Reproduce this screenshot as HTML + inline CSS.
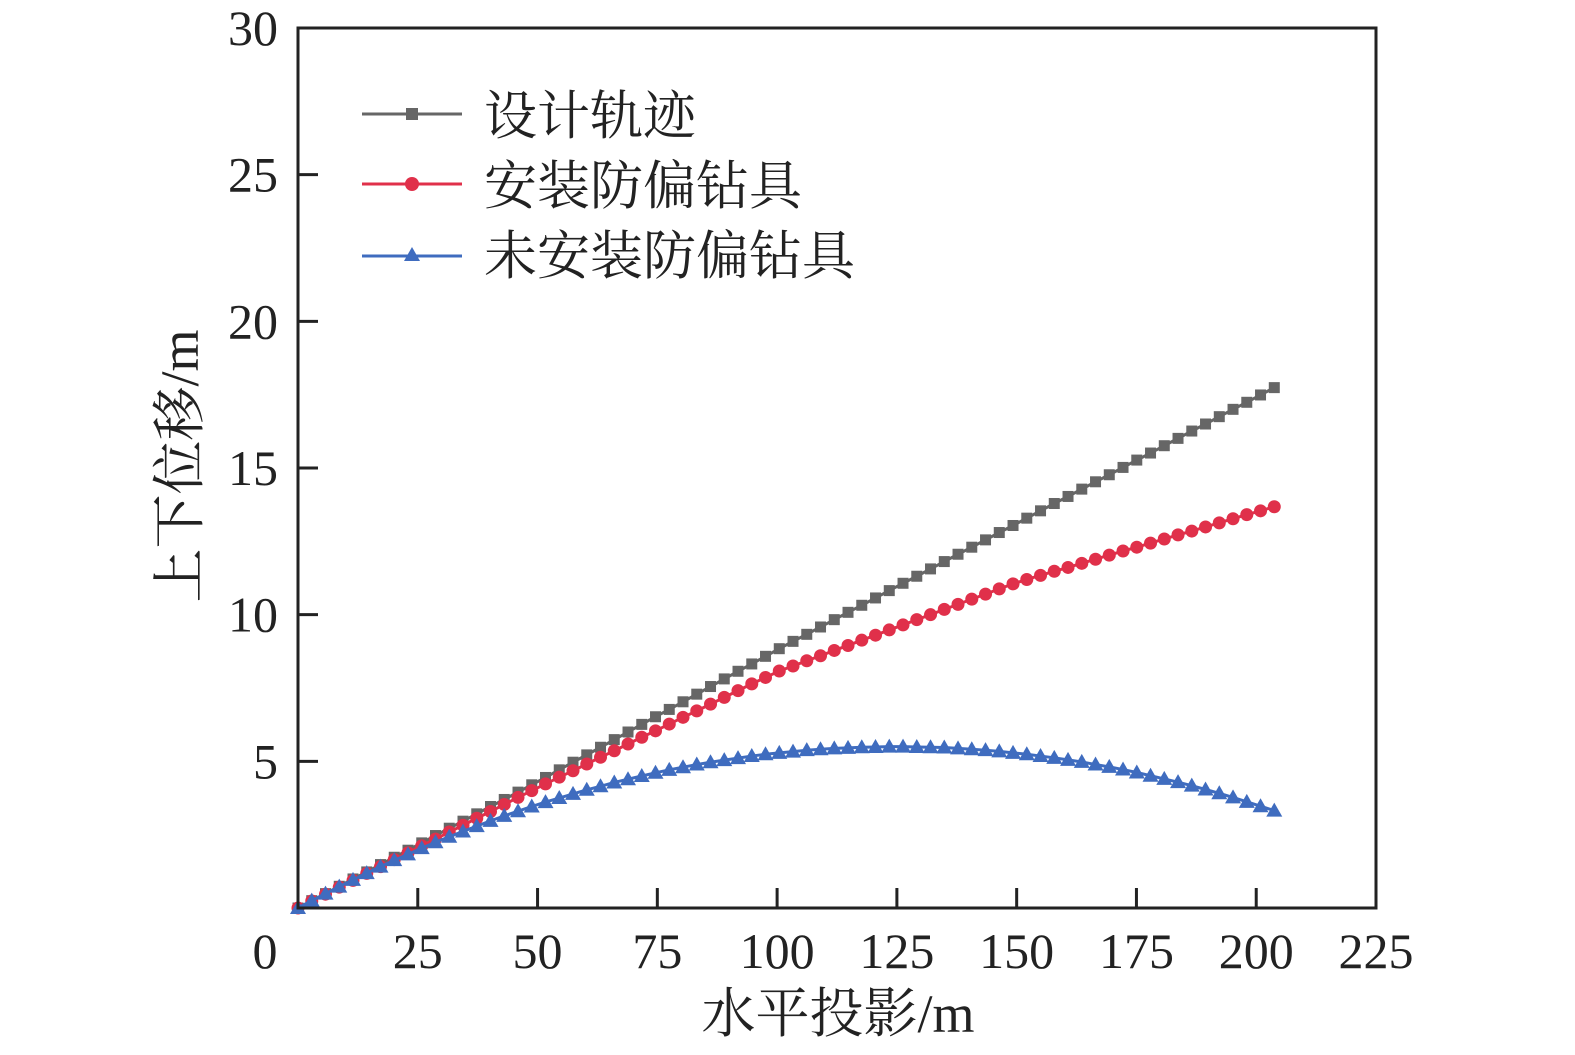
<!DOCTYPE html>
<html><head><meta charset="utf-8"><style>
body{margin:0;background:#fff;}
svg{display:block;}
text{font-family:"Liberation Serif","Noto Serif CJK SC",serif;fill:#222;}
</style></head><body>
<svg id="chart" width="1575" height="1055" xmlns="http://www.w3.org/2000/svg">
<g id="marks"></g>
<rect x="298" y="28" width="1078" height="880" fill="none" stroke="#222" stroke-width="3"/>
<g id="axes"></g>
<text x="838" y="1032" font-size="54" text-anchor="middle">水平投影/m</text>
<text transform="translate(198,466) rotate(-90)" font-size="54" text-anchor="middle">上下位移/m</text>
<g>
<g>
<line x1="362" y1="114" x2="462" y2="114" stroke="#666" stroke-width="3"/>
<rect x="406" y="108" width="12" height="12" fill="#666"/>
<text x="484" y="134" font-size="53">设计轨迹</text></g>
<g>
<line x1="362" y1="184" x2="462" y2="184" stroke="#e0304a" stroke-width="3"/>
<circle cx="412" cy="184" r="7" fill="#e0304a"/>
<text x="484" y="204" font-size="53">安装防偏钻具</text></g>
<g>
<line x1="362" y1="256" x2="462" y2="256" stroke="#3f6cbf" stroke-width="3"/>
<polygon points="412,247 420,261 404,261" fill="#3f6cbf"/>
<text x="484" y="274" font-size="53">未安装防偏钻具</text></g>
</g>
</svg>
<script>
const xVals=[0,2.87,5.74,8.61,11.48,14.35,17.22,20.09,22.96,25.83,28.7,31.57,34.44,37.31,40.18,43.05,45.92,48.79,51.66,54.53,57.4,60.27,63.14,66.01,68.88,71.75,74.62,77.49,80.36,83.23,86.1,88.97,91.84,94.71,97.58,100.45,103.32,106.19,109.06,111.93,114.8,117.67,120.54,123.41,126.28,129.15,132.02,134.89,137.76,140.63,143.5,146.37,149.24,152.11,154.98,157.85,160.72,163.59,166.46,169.33,172.2,175.07,177.94,180.81,183.68,186.55,189.42,192.29,195.16,198.03,200.9,203.77];
const designVals=[0,0.25,0.49,0.74,0.99,1.23,1.48,1.73,1.97,2.22,2.47,2.72,2.96,3.21,3.46,3.70,3.95,4.20,4.45,4.71,4.97,5.22,5.48,5.74,6.00,6.26,6.52,6.77,7.03,7.29,7.55,7.81,8.07,8.32,8.58,8.84,9.09,9.33,9.58,9.83,10.08,10.32,10.57,10.82,11.07,11.31,11.56,11.81,12.06,12.30,12.55,12.80,13.04,13.29,13.54,13.79,14.03,14.28,14.53,14.77,15.02,15.27,15.51,15.76,16.01,16.26,16.50,16.75,17.00,17.24,17.49,17.74];
const withToolVals=[0,0.24,0.47,0.71,0.94,1.18,1.41,1.65,1.88,2.12,2.35,2.59,2.82,3.06,3.29,3.53,3.77,4.00,4.23,4.46,4.68,4.91,5.14,5.36,5.59,5.82,6.04,6.27,6.50,6.72,6.95,7.18,7.41,7.64,7.86,8.08,8.25,8.43,8.60,8.78,8.95,9.13,9.30,9.48,9.65,9.83,10.00,10.18,10.35,10.53,10.70,10.88,11.05,11.20,11.34,11.48,11.61,11.75,11.89,12.03,12.17,12.30,12.44,12.58,12.72,12.85,12.99,13.13,13.27,13.41,13.54,13.68];
const withoutToolVals=[0,0.25,0.49,0.73,0.96,1.19,1.41,1.63,1.83,2.04,2.24,2.43,2.61,2.79,2.97,3.14,3.30,3.46,3.61,3.75,3.89,4.03,4.15,4.28,4.39,4.50,4.61,4.71,4.80,4.89,4.97,5.04,5.11,5.18,5.24,5.29,5.33,5.38,5.41,5.44,5.46,5.48,5.49,5.50,5.50,5.49,5.48,5.47,5.44,5.41,5.38,5.34,5.29,5.24,5.18,5.12,5.05,4.98,4.89,4.81,4.72,4.62,4.51,4.40,4.29,4.17,4.04,3.91,3.77,3.62,3.47,3.32];
const xTicks=[0,25,50,75,100,125,150,175,200,225];
const yTicks=[5,10,15,20,25,30];
const NS="http://www.w3.org/2000/svg";
function sx(v){return 298+v*(1078/225);}
function sy(v){return 908-v*(880/30);}
function mk(tag,attrs,parent){const e=document.createElementNS(NS,tag);for(const k in attrs)e.setAttribute(k,attrs[k]);parent.appendChild(e);return e;}
const axes=document.getElementById('axes');
xTicks.forEach(t=>{
  if(t>0&&t<225){const l=mk('line',{x1:sx(t),x2:sx(t),y1:908,y2:888,stroke:'#222','stroke-width':3},axes);
  
  }
  const tx=mk('text',{x:t===0?265:sx(t),y:968,'font-size':50,'text-anchor':'middle'},axes);
  tx.textContent=t;
  
  
});
yTicks.forEach(t=>{
  if(t<30){const l=mk('line',{x1:298,x2:318,y1:sy(t),y2:sy(t),stroke:'#222','stroke-width':3},axes);
  
  }
  const tx=mk('text',{x:278,y:sy(t)+17,'font-size':50,'text-anchor':'end'},axes);
  tx.textContent=t;
  
  
});
const marks=document.getElementById('marks');
function series(vals,color,shape,name){
  const g=mk('g',{},marks);
  
  
  const pts=vals.map((v,i)=>sx(xVals[i])+','+sy(v)).join(' ');
  mk('polyline',{points:pts,fill:'none',stroke:color,'stroke-width':3},g);
  vals.forEach((v,i)=>{
    const x=sx(xVals[i]),y=sy(v);let m;
    if(shape==='sq')m=mk('rect',{x:x-5.5,y:y-5.5,width:11,height:11,fill:color},g);
    else if(shape==='ci')m=mk('circle',{cx:x,cy:y,r:6.5,fill:color},g);
    else m=mk('polygon',{points:`${x},${y-8} ${x+8},${y+6} ${x-8},${y+6}`,fill:color},g);
    
    
  });
}
series(designVals,'#666','sq','design-series');
series(withToolVals,'#e0304a','ci','with-tool-series');
series(withoutToolVals,'#3f6cbf','tri','without-tool-series');
</script>
</body></html>
